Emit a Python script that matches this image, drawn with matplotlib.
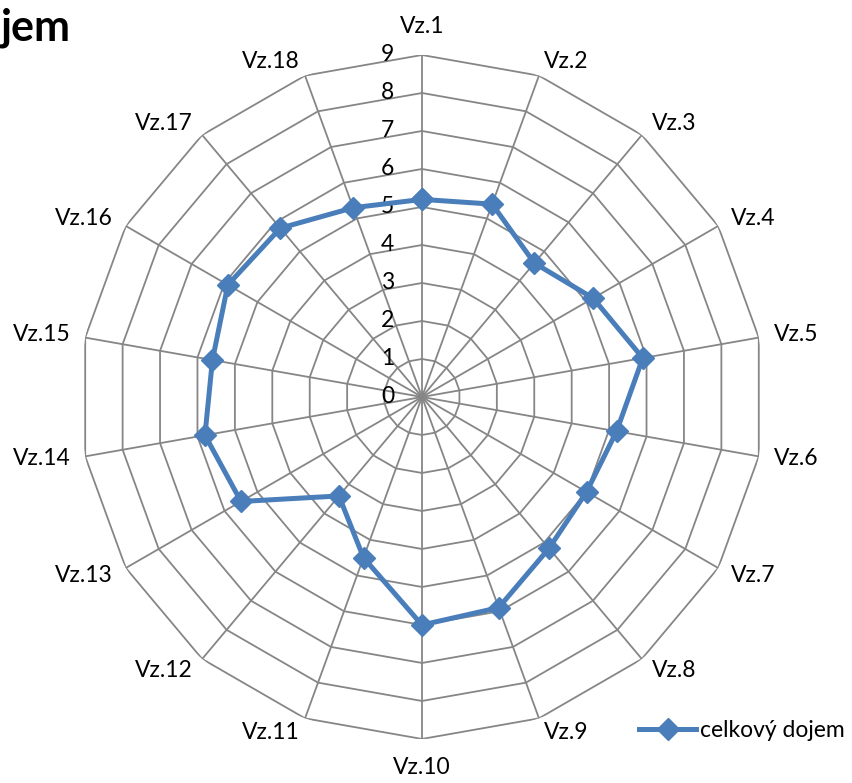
import numpy as np
import matplotlib
matplotlib.use('Agg')
import matplotlib.pyplot as plt
from matplotlib.transforms import offset_copy

plt.rcParams['font.family'] = ['Lato', 'DejaVu Sans']

categories = [f'Vz.{i}' for i in range(1, 19)]
dojem = [5.2, 5.4, 4.6, 5.2, 5.9, 5.2, 5.0, 5.2, 5.9,
         6.0, 4.5, 3.4, 5.5, 5.8, 5.6, 5.9, 5.8, 5.3]
r_ticks = list(range(0, 10))

GRID = '#868686'
BLUE = '#4a7ebb'
FS = 16.5

n = len(categories)
theta = np.arange(n) * 2 * np.pi / n
theta_closed = np.append(theta, theta[0])

fig = plt.figure(figsize=(8.52, 7.83), dpi=100)
ax = fig.add_axes([0.0939, 0.0562, 0.8028, 0.8736], projection='polar')
ax.set_theta_zero_location('N')
ax.set_theta_direction(-1)
ax.set_ylim(0, 9)
ax.axis('off')

# polygon grid and spokes
for r in r_ticks[1:]:
    ax.plot(theta_closed, [r] * (n + 1), color=GRID, lw=1.3, zorder=1)
for t in theta:
    ax.plot([t, t], [0, 9], color=GRID, lw=1.3, zorder=1)

# radial tick labels left of the top spoke
lbl_tr = offset_copy(ax.transData, fig=fig, x=-20, y=0, units='points')
for r in r_ticks:
    ax.text(0, r, str(r), transform=lbl_tr, ha='right', va='center',
            fontsize=FS, color='black')

# category labels sit just outside the outer vertex
for t, name in zip(theta, categories):
    s, c = np.sin(t), np.cos(t)
    ha = 'left' if s > 0.01 else ('right' if s < -0.01 else 'center')
    va = 'center'
    if abs(s) < 0.01:
        va = 'bottom' if c > 0 else 'top'
    off = 18 if abs(s) < 0.01 else 15
    tr = offset_copy(ax.transData, fig=fig, x=s * off, y=c * off, units='dots')
    ax.text(t, 9, name, transform=tr, ha=ha, va=va, fontsize=FS)

ax.plot(theta_closed, dojem + dojem[:1], color=BLUE, lw=3.6,
        marker='D', markersize=11, zorder=3, label='celkový dojem',
        clip_on=False)

fig.legend(loc='center left', bbox_to_anchor=(0.726, 0.067), frameon=False,
           fontsize=FS, handlelength=2.5, handletextpad=0.15)

fig.text(0.001, 0.964, 'jem', ha='left', va='center', fontsize=31,
         weight='bold')

fig.savefig('out.png', dpi=100)
